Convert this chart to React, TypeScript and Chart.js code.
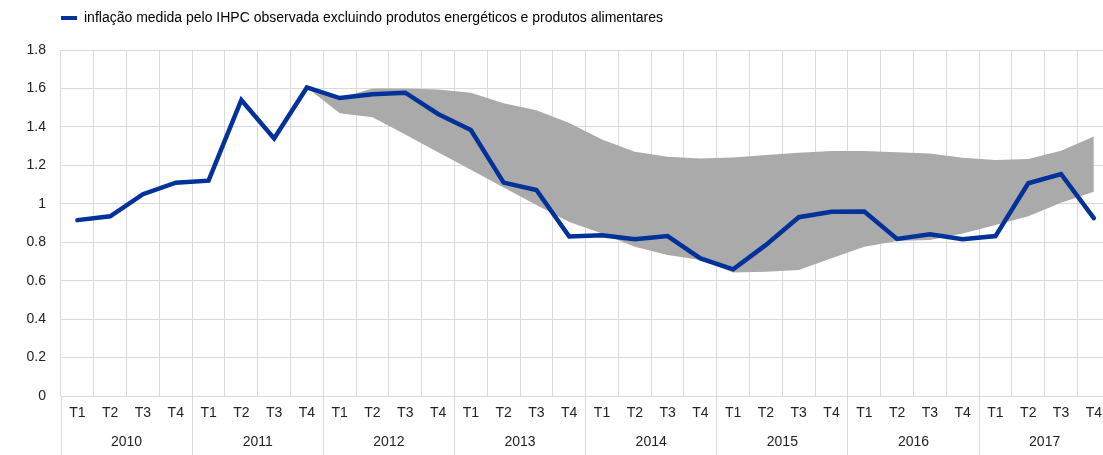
import React, { useEffect, useRef } from 'react';
import { Chart, registerables } from 'chart.js';

Chart.register(...registerables);

// ---- data ----
const years = ['2010', '2011', '2012', '2013', '2014', '2015', '2016', '2017'];
const quarters = ['T1', 'T2', 'T3', 'T4'];

const observed = [
  0.915, 0.935, 1.05, 1.11,
  1.12, 1.54, 1.34, 1.605,
  1.55, 1.57, 1.578, 1.467,
  1.384, 1.11, 1.072, 0.83,
  0.836, 0.815, 0.832, 0.716,
  0.659, 0.786, 0.93, 0.959,
  0.96, 0.817, 0.841, 0.815,
  0.832, 1.107, 1.155, 0.925,
];

const bandUpper = [
  null, null, null, null,
  null, null, null, 1.605,
  1.55, 1.6, 1.6, 1.595,
  1.578, 1.523, 1.487, 1.42,
  1.335, 1.271, 1.245, 1.236,
  1.241, 1.254, 1.266, 1.275,
  1.275, 1.268, 1.262, 1.24,
  1.228, 1.233, 1.276, 1.35,
];

const bandLower = [
  null, null, null, null,
  null, null, null, 1.605,
  1.471, 1.45, 1.36, 1.268,
  1.177, 1.085, 0.994, 0.905,
  0.845, 0.777, 0.734, 0.708,
  0.642, 0.647, 0.656, 0.716,
  0.777, 0.806, 0.812, 0.845,
  0.89, 0.935, 1.005, 1.063,
];

const yMin = 0;
const yMax = 1.8;
const yStep = 0.2;

const legendLabel =
  'inflação medida pelo IHPC observada excluindo produtos energéticos e produtos alimentares';

// ---- styles ----
const BLUE = '#003299';
const BAND = '#aaaaaa';
const GRID = '#dadada';
const TEXT = '#222222';
const FONT = 'Arial, "Liberation Sans", Helvetica, sans-serif';

const labels = years.flatMap(() => quarters);

const yearSeparators = {
  id: 'yearSeparators',
  afterDraw(chart: any) {
    const xs = chart.scales.x;
    const ctx = chart.ctx;
    ctx.save();
    ctx.strokeStyle = GRID;
    ctx.lineWidth = 1;
    for (let k = 0; k <= years.length; k++) {
      const raw = xs.getPixelForValue(k * quarters.length - 0.5);
      const px = Math.round(raw - 0.5) + 0.5;
      ctx.beginPath();
      ctx.moveTo(px, chart.chartArea.bottom);
      ctx.lineTo(px, chart.height);
      ctx.stroke();
    }
    ctx.restore();
  },
};

// Legend: extra space below it, and aligned with the plot's left edge.
const legendTweak = {
  id: 'legendTweak',
  beforeInit(chart: any) {
    const lg = chart.legend;
    if (!lg) return;
    const origFit = lg.fit;
    lg.fit = function () {
      origFit.call(this);
      this.height += 16;
    };
    const origDraw = lg.draw;
    lg.draw = function () {
      const ctx = this.ctx;
      ctx.save();
      const dx = chart.chartArea ? chart.chartArea.left - 10 : 51;
      ctx.translate(dx, 1);
      origDraw.call(this);
      ctx.restore();
    };
  },
};

export default function App() {
  const ref = useRef<HTMLCanvasElement | null>(null);

  useEffect(() => {
    if (!ref.current) return;
    Chart.defaults.font.family = FONT;
    Chart.defaults.font.size = 14;
    Chart.defaults.color = TEXT;

    const chart = new Chart(ref.current, {
      type: 'line',
      data: {
        labels,
        datasets: [
          {
            label: legendLabel,
            data: observed,
            borderColor: BLUE,
            backgroundColor: BLUE,
            borderWidth: 4.5,
            pointRadius: 0,
            tension: 0,
            fill: false,
            borderCapStyle: 'round',
          },
          {
            label: 'upper',
            data: bandUpper as any,
            borderColor: 'rgba(0,0,0,0)',
            borderWidth: 0,
            pointRadius: 0,
            tension: 0,
            fill: false,
          },
          {
            label: 'lower',
            data: bandLower as any,
            borderColor: 'rgba(0,0,0,0)',
            backgroundColor: BAND,
            borderWidth: 0,
            pointRadius: 0,
            tension: 0,
            fill: '-1',
          },
        ],
      },
      options: {
        animation: false,
        responsive: true,
        maintainAspectRatio: false,
        events: [],
        layout: { padding: { left: 0, right: 0, top: 0, bottom: 0 } },
        plugins: {
          tooltip: { enabled: false },
          legend: {
            display: true,
            position: 'top',
            align: 'start',
            labels: {
              boxWidth: 16,
              boxHeight: 4,
              padding: 10,
              color: TEXT,
              font: { size: 14, family: FONT },
              generateLabels: () => [
                {
                  text: legendLabel,
                  fillStyle: BLUE,
                  strokeStyle: BLUE,
                  lineWidth: 0,
                  hidden: false,
                  datasetIndex: 0,
                } as any,
              ],
            },
          },
        },
        scales: {
          x: {
            type: 'category',
            offset: true,
            grid: { offset: true, color: GRID, lineWidth: 1, drawTicks: false },
            border: { display: false },
            ticks: {
              padding: 9,
              autoSkip: false,
              maxRotation: 0,
              color: TEXT,
              font: { size: 14, family: FONT },
            },
            afterFit: (s: any) => {
              s.height = 30;
            },
          },
          x2: {
            type: 'category',
            labels: years,
            position: 'bottom',
            offset: true,
            grid: { display: false, drawTicks: false },
            border: { display: false },
            ticks: {
              padding: 8,
              autoSkip: false,
              maxRotation: 0,
              color: TEXT,
              font: { size: 14, family: FONT },
            },
            afterFit: (s: any) => {
              s.height = 29;
            },
          },
          y: {
            min: yMin,
            max: yMax,
            ticks: {
              stepSize: yStep,
              padding: 15,
              color: TEXT,
              font: { size: 14, family: FONT },
              callback: (v: any) => String(Number(Number(v).toFixed(1))),
            },
            grid: { color: GRID, lineWidth: 1, drawTicks: false },
            border: { display: false },
            afterFit: (s: any) => {
              s.width = 61;
            },
          },
        },
      } as any,
      plugins: [yearSeparators, legendTweak],
    });

    return () => chart.destroy();
  }, []);

  return (
    <div
      style={{
        position: 'absolute',
        left: 0,
        top: 0,
        width: 1103,
        height: 455,
        overflow: 'hidden',
        background: '#ffffff',
      }}
    >
      <div style={{ position: 'relative', width: 1111, height: 455 }}>
        <canvas ref={ref} />
      </div>
    </div>
  );
}
